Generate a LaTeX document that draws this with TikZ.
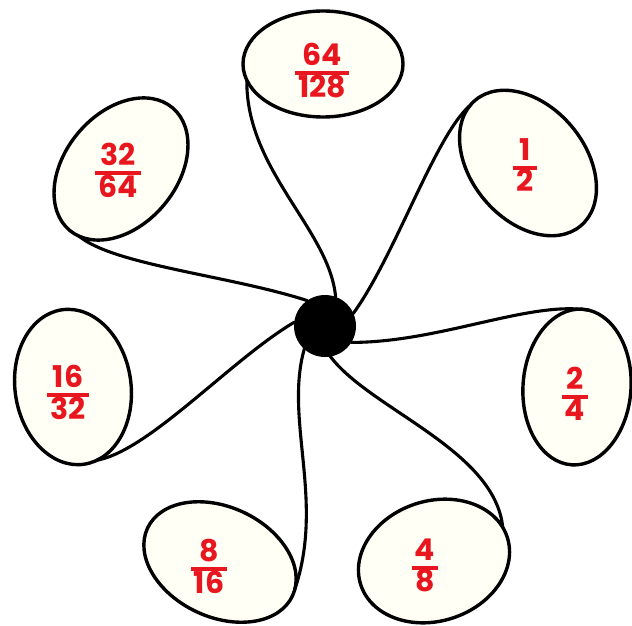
\documentclass[tikz,border=0pt]{standalone}
\usepackage{fontspec}
\newfontfamily\numfont{Poppins}
\usetikzlibrary{shapes.geometric}
\definecolor{numred}{RGB}{232,22,30}
\definecolor{eggfill}{RGB}{255,255,246}
\newcommand\fr[2]{{\renewcommand\arraystretch{0}\setlength\arrayrulewidth{3.5pt}%
\begin{tabular}{@{\hspace{3pt}}c@{\hspace{3pt}}}\rule[-5.5pt]{0pt}{27.5pt}#1\\\hline\rule[-5.5pt]{0pt}{27.5pt}#2\end{tabular}}}
\tikzset{
  egg/.style={ellipse, draw, line width=3.4pt, fill=eggfill, inner sep=0pt, outer sep=0pt},
  string/.style={line width=3.1pt, line cap=round},
  hub/.style={circle, fill=black, inner sep=0pt, outer sep=0pt, minimum size=62pt},
  fractxt/.style={text=numred, inner sep=0pt, font=\numfont\bfseries\fontsize{30}{36}\selectfont}
}
\begin{document}
\begin{tikzpicture}[x=1pt,y=-1pt]
\useasboundingbox (0,0) rectangle (632,626);
\fill[white] (0,0) rectangle (632,626);
% balloons
\node[egg, minimum width=160pt, minimum height=106pt] (e1) at (323,64) {};
\node[egg, minimum width=164pt, minimum height=114pt, rotate=-50] (e2) at (528,163) {};
\node[egg, minimum width=108pt, minimum height=156pt, rotate=-4] (e3) at (577,387) {};
\node[egg, minimum width=154pt, minimum height=120pt, rotate=18] (e4) at (434,561) {};
\node[egg, minimum width=160pt, minimum height=110pt, rotate=-25] (e5) at (220,562) {};
\node[egg, minimum width=116pt, minimum height=156pt, rotate=8] (e6) at (73,387) {};
\node[egg, minimum width=160pt, minimum height=112pt, rotate=50] (e7) at (121,169) {};
% hub
\node[hub] (hub) at (325,326) {};
% strings
\draw[string] (hub.70) .. controls +(-6,-67) and +(-1,90) .. (e1.192);
\draw[string] (hub.24) .. controls +(42,-58) and +(-35,30) .. (e2.185);
\draw[string] (hub.328) .. controls +(89,0) and +(-59,-10) .. (e3.85);
\draw[string] (hub.280) .. controls +(40,53) and +(-8,-78) .. (e4.8);
\draw[string] (hub.228) .. controls +(-20,71) and +(30,-89) .. (e5.5);
\draw[string] (hub.173) .. controls +(-64,38) and +(53,-10) .. (e6.280);
\draw[string] (hub.125) .. controls +(-77,-25) and +(35,29) .. (e7.188);
% fractions
\node[fractxt] (t1) at (322,73) {\fr{64}{128}};
\node[fractxt] (t2) at (525,168) {\fr{1}{2}};
\node[fractxt] (t3) at (575,397) {\fr{2}{4}};
\node[fractxt] (t4) at (425,568) {\fr{4}{8}};
\node[fractxt] (t5) at (209,569) {\fr{8}{16}};
\node[fractxt] (t6) at (68,395) {\fr{16}{32}};
\node[fractxt] (t7) at (118,173) {\fr{32}{64}};
\end{tikzpicture}
\end{document}
